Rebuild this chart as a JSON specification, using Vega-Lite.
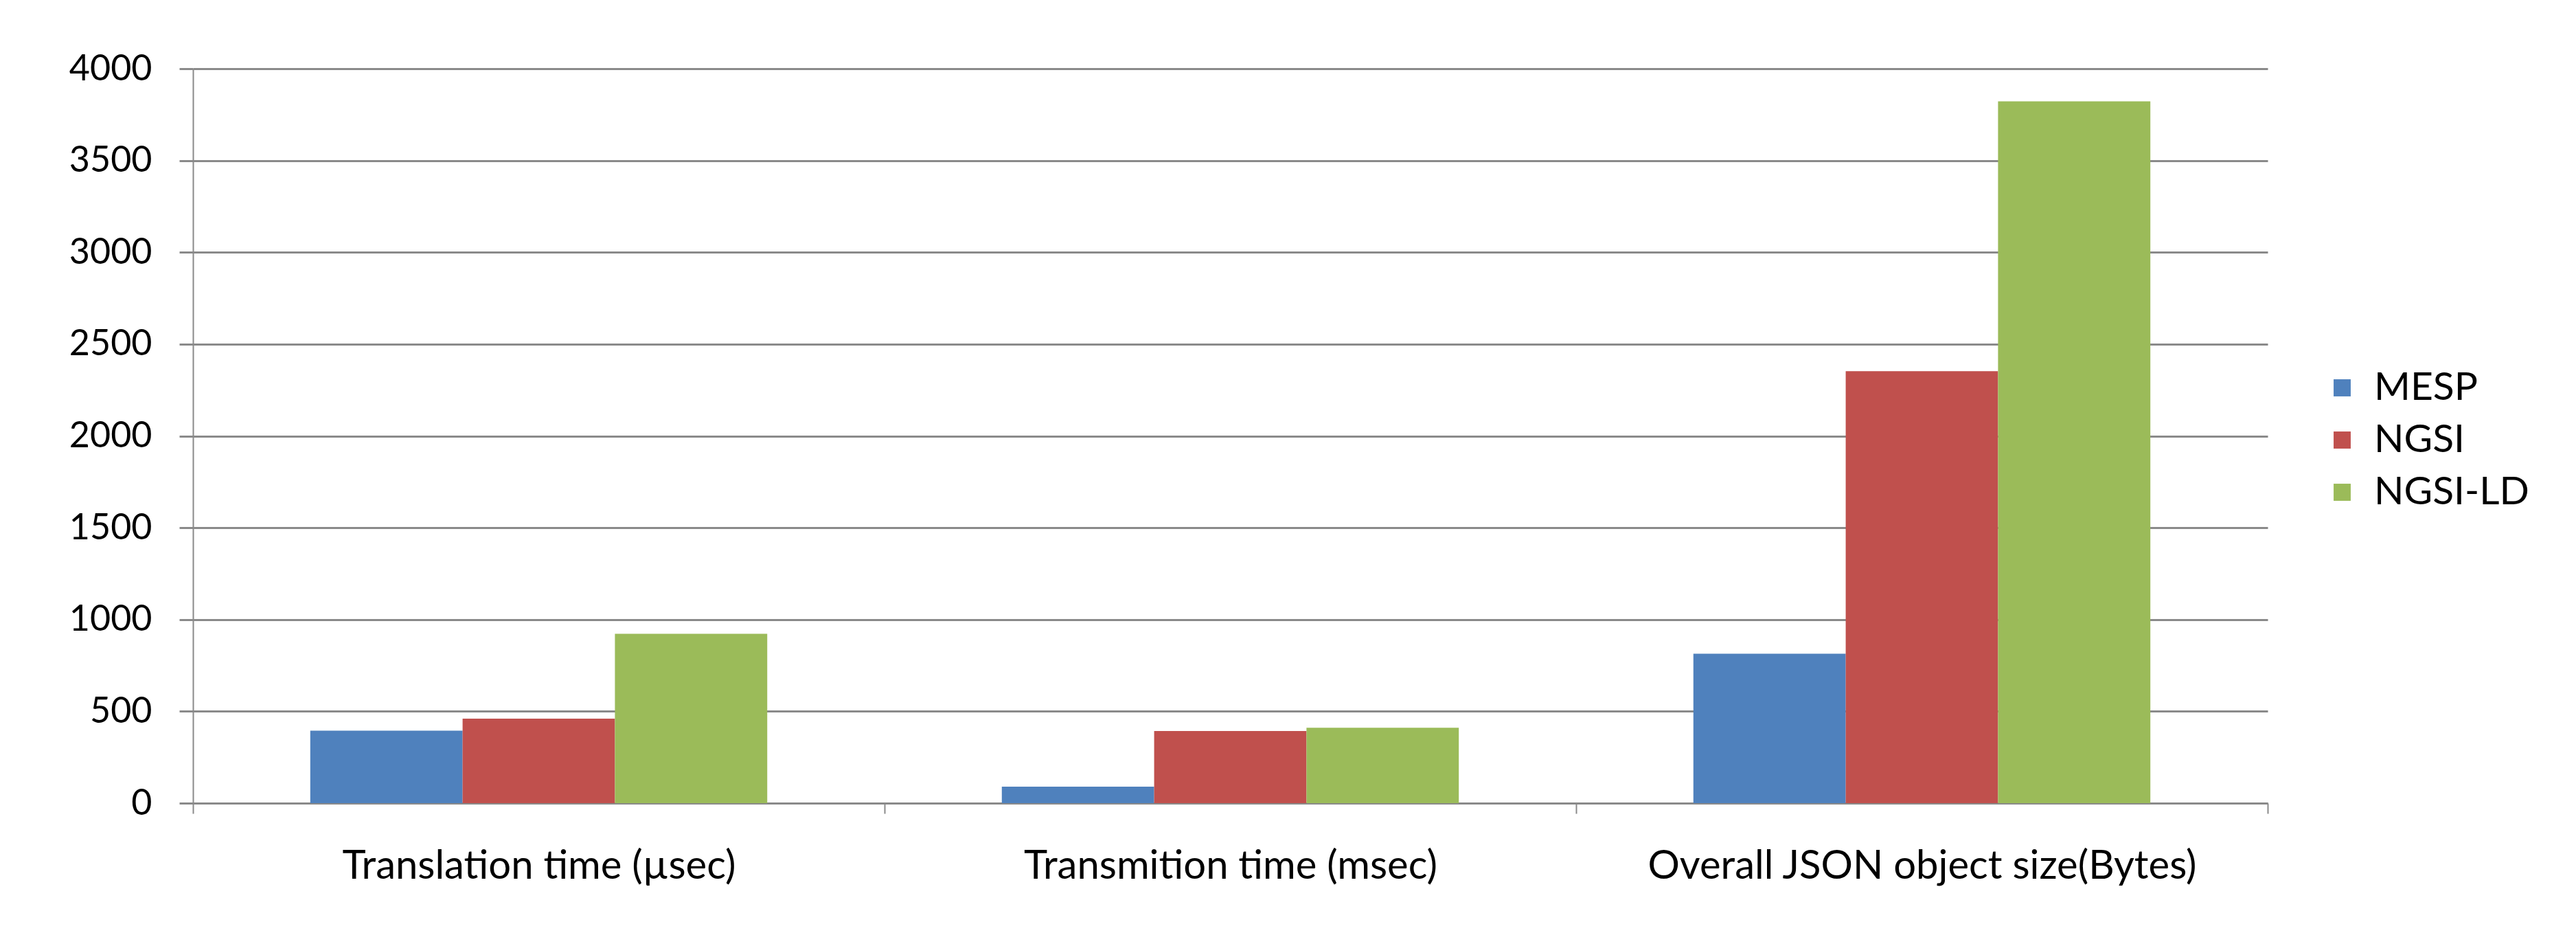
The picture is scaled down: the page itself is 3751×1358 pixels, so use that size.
{
  "$schema": "https://vega.github.io/schema/vega-lite/v6.json",
  "width": 3021,
  "height": 1069,
  "padding": {"left": 100, "top": 74, "right": 20, "bottom": 20},
  "background": "white",
  "data": {
    "values": [
      {"metric": "Translation time (µsec)", "protocol": "MESP", "value": 395},
      {"metric": "Translation time (µsec)", "protocol": "NGSI", "value": 460},
      {"metric": "Translation time (µsec)", "protocol": "NGSI-LD", "value": 922},
      {"metric": "Transmition time (msec)", "protocol": "MESP", "value": 90},
      {"metric": "Transmition time (msec)", "protocol": "NGSI", "value": 393},
      {"metric": "Transmition time (msec)", "protocol": "NGSI-LD", "value": 411},
      {"metric": "Overall JSON object size(Bytes)", "protocol": "MESP", "value": 814},
      {"metric": "Overall JSON object size(Bytes)", "protocol": "NGSI", "value": 2353},
      {"metric": "Overall JSON object size(Bytes)", "protocol": "NGSI-LD", "value": 3822}
    ]
  },
  "mark": {"type": "bar"},
  "encoding": {
    "x": {
      "field": "metric",
      "type": "nominal",
      "sort": null,
      "title": null,
      "scale": {"paddingInner": 0, "paddingOuter": 0},
      "axis": {
        "labelAngle": 0,
        "labelLimit": 0,
        "tickBand": "extent",
        "tickSize": 15,
        "tickColor": "#8a8a8a",
        "tickWidth": 2,
        "domainColor": "#8a8a8a",
        "domainWidth": 3,
        "labelFontSize": 58,
        "labelFont": "Lato",
        "labelColor": "#000000",
        "labelPadding": 48,
        "grid": false
      }
    },
    "xOffset": {
      "field": "protocol",
      "type": "nominal",
      "sort": ["MESP", "NGSI", "NGSI-LD"],
      "scale": {"paddingInner": 0, "paddingOuter": 0.77}
    },
    "y": {
      "field": "value",
      "type": "quantitative",
      "title": null,
      "scale": {"domain": [0, 4000], "nice": false},
      "axis": {
        "values": [0, 500, 1000, 1500, 2000, 2500, 3000, 3500, 4000],
        "format": "d",
        "grid": true,
        "gridColor": "#8a8a8a",
        "gridWidth": 3,
        "tickSize": 20,
        "tickColor": "#8a8a8a",
        "tickWidth": 3,
        "domainColor": "#8a8a8a",
        "domainWidth": 2,
        "labelFontSize": 52,
        "labelFont": "Lato",
        "labelColor": "#000000",
        "labelPadding": 40
      }
    },
    "color": {
      "field": "protocol",
      "type": "nominal",
      "sort": ["MESP", "NGSI", "NGSI-LD"],
      "scale": {"domain": ["MESP", "NGSI", "NGSI-LD"], "range": ["#4F81BD", "#C0504D", "#9BBB59"]},
      "legend": {
        "title": null,
        "orient": "none",
        "legendX": 3101,
        "legendY": 436,
        "labelLimit": 0,
        "symbolType": "square",
        "symbolSize": 620,
        "symbolStrokeWidth": 0,
        "labelFontSize": 57,
        "labelFont": "Lato",
        "labelColor": "#000000",
        "labelOffset": 18,
        "rowPadding": 18
      }
    }
  },
  "config": {
    "view": {"stroke": null},
    "bar": {"stroke": null}
  }
}
